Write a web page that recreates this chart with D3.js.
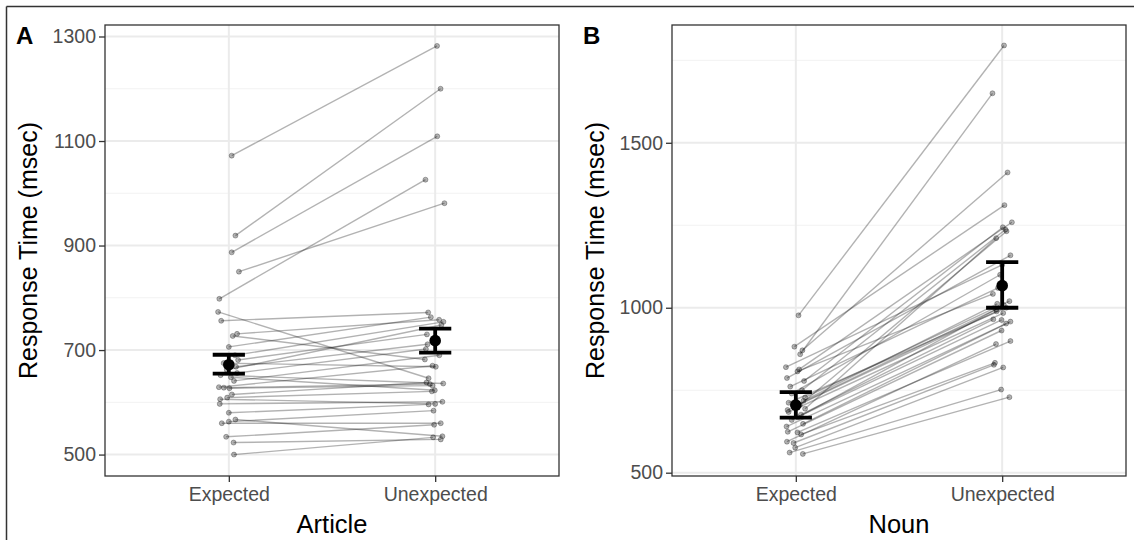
<!DOCTYPE html>
<html>
<head>
<meta charset="utf-8">
<script src="https://cdn.jsdelivr.net/npm/d3@7"></script>
<style>
  body { margin: 0; background: #fff; }
  svg { display: block; font-family: "Liberation Sans", Arial, sans-serif; }
</style>
</head>
<body>
<div id="chart"></div>
<script>
// Categories and tick labels
const categories = ["Expected", "Unexpected"];
const articleTicks = [500, 700, 900, 1100, 1300];
const nounTicks = [500, 1000, 1500];

// Panel A: per-subject response times (msec) and horizontal jitter (in category steps)
const articleExpected   = [1072, 919, 887, 850, 798, 773, 756, 731, 727, 706, 690, 681, 675, 668, 662, 656, 652, 648, 641, 629, 628, 627, 615, 609, 606, 597, 580, 567, 563, 560, 534, 523, 500];
const articleUnexpected = [1282, 1200, 1109, 981, 1026, 646, 772, 758, 682, 763, 754, 730, 668, 711, 748, 702, 636, 623, 690, 670, 635, 632, 638, 621, 597, 601, 596, 535, 584, 560, 557, 529, 533];
const articleJitterExp   = [0.014, 0.032, 0.014, 0.049, -0.046, -0.052, -0.037, 0.040, 0.019, 0.000, 0.030, 0.045, -0.025, 0.035, -0.010, 0.040, -0.040, 0.010, 0.025, -0.048, -0.024, 0.003, 0.015, -0.008, -0.042, -0.044, 0.000, 0.032, 0.000, -0.034, -0.013, 0.023, 0.025];
const articleJitterUnexp = [0.009, 0.026, 0.010, 0.045, -0.047, -0.032, -0.034, 0.019, -0.050, -0.021, 0.040, -0.040, 0.003, -0.037, 0.030, -0.045, 0.039, -0.002, 0.020, -0.013, -0.026, -0.013, -0.042, -0.016, 0.000, 0.035, -0.032, 0.035, -0.008, 0.027, -0.005, 0.027, -0.010];
const articleMean = [672, 718];
const articleLow  = [655, 695];
const articleHigh = [691, 741];

// Panel B
const nounExpected   = [977, 882, 871, 859, 820, 813, 807, 787, 778, 761, 750, 740, 728, 718, 712, 705, 700, 694, 690, 684, 676, 668, 660, 648, 640, 624, 622, 616, 594, 590, 576, 561, 557];
const nounUnexpected = [1795, 1311, 1410, 1650, 1130, 1259, 1042, 1159, 1244, 1060, 1237, 1100, 1020, 1012, 1000, 1232, 995, 1211, 989, 984, 965, 1008, 963, 958, 952, 931, 899, 833, 890, 827, 819, 752, 729];
const nounJitterExp   = [0.013, -0.007, 0.032, 0.021, -0.048, 0.016, 0.008, -0.043, 0.040, -0.027, 0.030, -0.020, 0.045, 0.037, -0.035, 0.020, -0.010, 0.045, -0.040, -0.035, 0.025, 0.010, -0.020, 0.035, -0.045, -0.039, 0.008, 0.026, -0.043, -0.011, -0.003, -0.030, 0.034];
const nounJitterUnexp = [0.009, 0.011, 0.026, -0.047, 0.000, 0.047, -0.045, 0.040, 0.003, -0.020, 0.016, -0.010, 0.035, -0.024, 0.020, 0.021, -0.030, -0.029, -0.027, 0.005, -0.043, 0.008, -0.003, 0.040, 0.019, -0.003, 0.040, -0.035, -0.030, -0.040, 0.005, -0.005, 0.035];
const nounMean = [705, 1067];
const nounLow  = [667, 1000];
const nounHigh = [744, 1138];

var W = 1134, H = 540;
var svg = d3.select("#chart").append("svg")
    .attr("width", W)
    .attr("height", H);

// outer frame (top and left edges visible)
svg.append("line").attr("x1", 6.5).attr("x2", W).attr("y1", 6.5).attr("y2", 6.5)
    .attr("stroke", "#333").attr("stroke-width", 1.5);
svg.append("line").attr("x1", 6.5).attr("x2", 6.5).attr("y1", 6.5).attr("y2", H)
    .attr("stroke", "#333").attr("stroke-width", 1.5);

function drawPanel(cfg) {
  var left = cfg.left, right = cfg.left + 454, top = 25, bottom = 476;

  var x = d3.scalePoint().domain(categories).range([left, right]).padding(0.6);
  var step = x.step();
  var y = d3.scaleLinear().domain(cfg.domain).range([bottom, top]);

  var g = svg.append("g");

  // minor grid: midpoints between major ticks
  var t = cfg.ticks, d = t[1] - t[0];
  var minor = [t[0] - d / 2].concat(t.map(v => v + d / 2))
      .filter(v => v > cfg.domain[0] && v < cfg.domain[1]);
  g.selectAll(".minor").data(minor).enter().append("line")
      .attr("x1", left).attr("x2", right)
      .attr("y1", v => y(v)).attr("y2", v => y(v))
      .attr("stroke", "#f2f2f2").attr("stroke-width", 1);
  g.selectAll(".major").data(t).enter().append("line")
      .attr("x1", left).attr("x2", right)
      .attr("y1", v => y(v)).attr("y2", v => y(v))
      .attr("stroke", "#ebebeb").attr("stroke-width", 2);
  g.selectAll(".vgrid").data(categories).enter().append("line")
      .attr("x1", c => x(c)).attr("x2", c => x(c))
      .attr("y1", top).attr("y2", bottom)
      .attr("stroke", "#ebebeb").attr("stroke-width", 2);

  // subject lines
  var subj = cfg.exp.map((v, i) => ({
    x0: x(categories[0]) + cfg.jExp[i] * step, y0: y(v),
    x1: x(categories[1]) + cfg.jUnexp[i] * step, y1: y(cfg.unexp[i])
  }));
  g.selectAll(".subj").data(subj).enter().append("line")
      .attr("x1", s => s.x0).attr("y1", s => s.y0)
      .attr("x2", s => s.x1).attr("y2", s => s.y1)
      .attr("stroke", "#000").attr("stroke-opacity", 0.3).attr("stroke-width", 1.4);

  var pts = [];
  subj.forEach(s => { pts.push([s.x0, s.y0]); pts.push([s.x1, s.y1]); });
  g.selectAll(".pt").data(pts).enter().append("circle")
      .attr("cx", p => p[0]).attr("cy", p => p[1]).attr("r", 2.5)
      .attr("fill", "#000").attr("fill-opacity", 0.3)
      .attr("stroke", "#000").attr("stroke-opacity", 0.35).attr("stroke-width", 0.8);

  // error bars and means
  var hw = 0.078 * step;
  categories.forEach((c, i) => {
    var cx = x(c);
    g.append("line").attr("x1", cx).attr("x2", cx)
        .attr("y1", y(cfg.low[i])).attr("y2", y(cfg.high[i]))
        .attr("stroke", "#000").attr("stroke-width", 3.8);
    [cfg.low[i], cfg.high[i]].forEach(v => {
      g.append("line").attr("x1", cx - hw).attr("x2", cx + hw)
          .attr("y1", y(v)).attr("y2", y(v))
          .attr("stroke", "#000").attr("stroke-width", 3.8);
    });
    g.append("circle").attr("cx", cx).attr("cy", y(cfg.mean[i])).attr("r", 5.8)
        .attr("fill", "#000");
  });

  // panel border
  g.append("rect").attr("x", left).attr("y", top)
      .attr("width", right - left).attr("height", bottom - top)
      .attr("fill", "none").attr("stroke", "#333").attr("stroke-width", 1.3);

  // axes
  var yAxis = g.append("g").attr("transform", "translate(" + left + ",0)")
      .call(d3.axisLeft(y).tickValues(t).tickFormat(d3.format("d")).tickSize(6).tickPadding(3));
  var xAxis = g.append("g").attr("transform", "translate(0," + bottom + ")")
      .call(d3.axisBottom(x).tickSize(6).tickPadding(5));
  [yAxis, xAxis].forEach(a => {
    a.select(".domain").remove();
    a.selectAll(".tick line").attr("stroke", "#333").attr("stroke-width", 1.3);
    a.selectAll(".tick text").attr("fill", "#4d4d4d")
        .style("font-size", "19.5px").style("font-family", "Liberation Sans, Arial, sans-serif");
  });

  // titles
  g.append("text")
      .attr("transform", "translate(" + (cfg.left - 68) + "," + ((top + bottom) / 2) + ") rotate(-90)")
      .attr("text-anchor", "middle")
      .style("font-size", "25px")
      .text("Response Time (msec)");
  g.append("text")
      .attr("x", (left + right) / 2).attr("y", 533)
      .attr("text-anchor", "middle")
      .style("font-size", "25.5px")
      .text(cfg.xTitle);
  g.append("text")
      .attr("x", cfg.left - 89).attr("y", 44)
      .style("font-size", "24px").style("font-weight", "bold")
      .text(cfg.tag);
}

drawPanel({
  left: 105, tag: "A", xTitle: "Article",
  domain: [459, 1322], ticks: articleTicks,
  exp: articleExpected, unexp: articleUnexpected,
  jExp: articleJitterExp, jUnexp: articleJitterUnexp,
  mean: articleMean, low: articleLow, high: articleHigh
});

drawPanel({
  left: 672, tag: "B", xTitle: "Noun",
  domain: [490, 1857], ticks: nounTicks,
  exp: nounExpected, unexp: nounUnexpected,
  jExp: nounJitterExp, jUnexp: nounJitterUnexp,
  mean: nounMean, low: nounLow, high: nounHigh
});
</script>
</body>
</html>
